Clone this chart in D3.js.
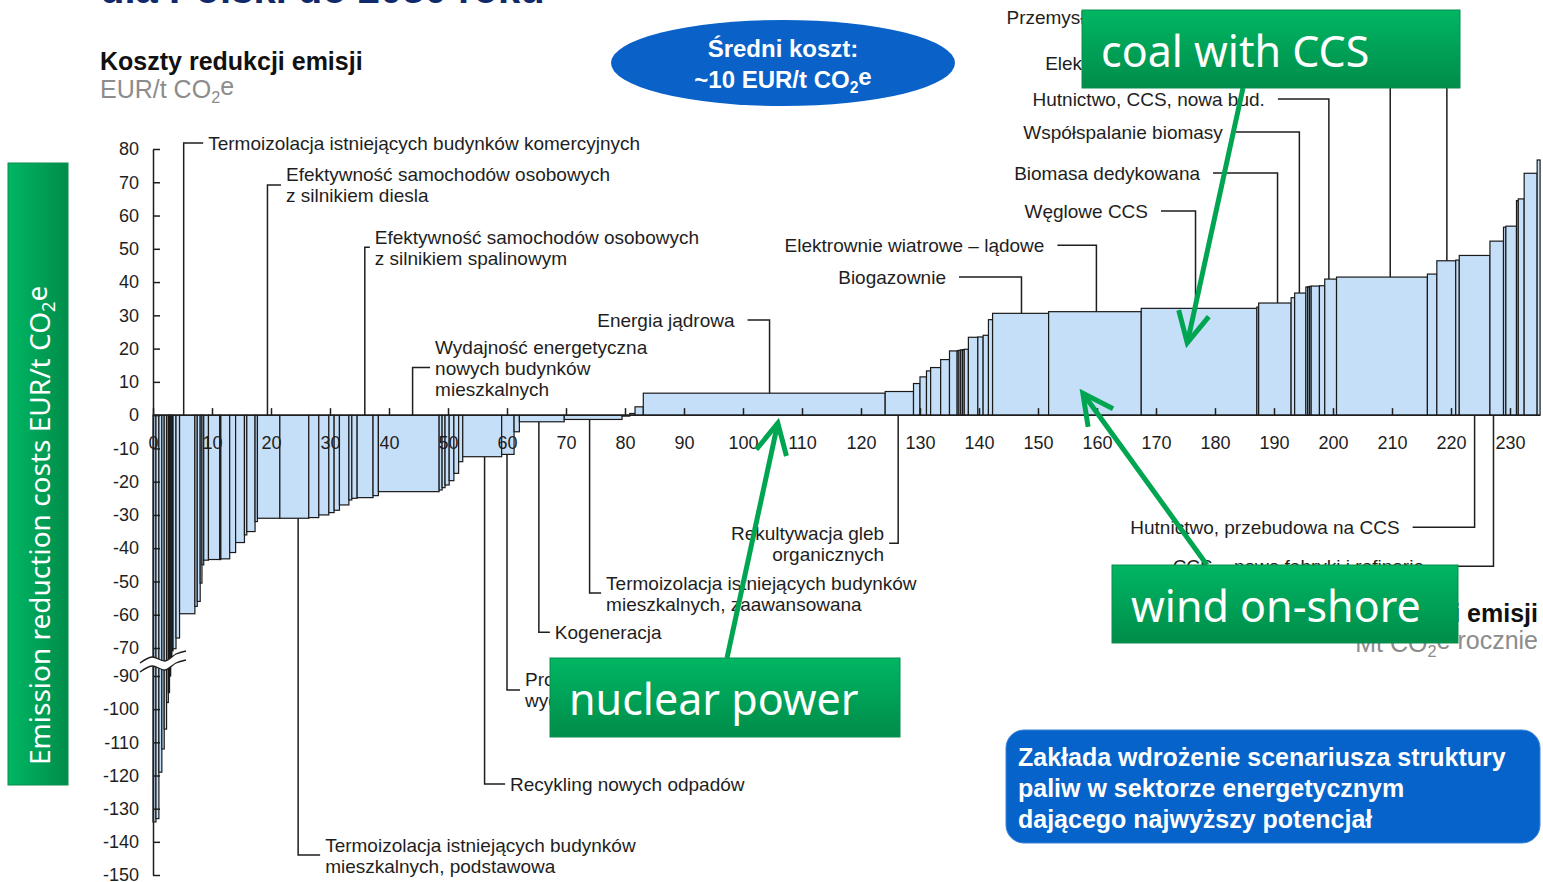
<!DOCTYPE html>
<meta charset="utf-8">
<script src="https://cdnjs.cloudflare.com/ajax/libs/d3/7.8.5/d3.min.js"></script>
<style>

body {
  margin: 0;
  background: #fff;
}
svg {
  display: block;
  font-family: "Liberation Sans", Arial, sans-serif;
}

rect.bar {
  fill: #c6dff8;
  stroke: #1a1a1a;
  stroke-width: 1.2px;
}

.axis text {
  font-family: "Liberation Sans", Arial, sans-serif;
  font-size: 18px;
  fill: #1e1e1e;
}
.axis line, .axis path {
  stroke: #1e1e1e;
  stroke-width: 1.5px;
}

.leader {
  fill: none;
  stroke: #1e1e1e;
  stroke-width: 1.5px;
}
.lbl {
  font-size: 19px;
  fill: #1e1e1e;
}

.arrow {
  fill: none;
  stroke: #00a551;
  stroke-width: 5px;
}
.callout text {
  font-family: "Noto Sans", "Open Sans", sans-serif;
  font-size: 43px;
  fill: #fff;
}

</style>
<body>
<div class="chart"></div>
<script type="text/javascript">

// Abatement potential of each measure (Mt CO2e per year), left to right
var potential = [0.5, 0.5, 0.5, 0.4, 0.4, 0.3, 0.2, 0.2, 0.2, 0.2,
                 0.5, 0.6, 2.6, 0.4, 0.5, 0.3, 0.3, 0.8, 1.9, 0.2,
                 1.5, 1.0, 1.5, 0.4, 1.4, 0.4, 3.8, 4.9, 1.7, 1.7,
                 0.9, 0.9, 1.6, 0.5, 0.9, 2.7, 0.9, 10.3, 0.5, 0.5,
                 0.7, 0.8, 0.8, 0.7, 6.6, 2.1, 0.9, 7.6, 9.8, 1.3,
                 0.9, 1.4, 41.0, 4.8, 1.1, 1.1, 0.7, 1.7, 1.5, 1.3,
                 0.3, 0.3, 0.3, 0.3, 0.7, 1.6, 0.9, 0.9, 0.7, 9.5,
                 15.7, 19.6, 0.3, 5.5, 0.6, 1.9, 0.3, 0.3, 0.3, 1.4,
                 0.9, 2.0, 15.4, 1.6, 3.2, 0.6, 5.2, 2.3, 0.4, 1.8,
                 0.3, 1.0, 2.2, 0.5];

// Cost of each measure (EUR/t CO2e)
var cost = [-134, -133, -119, -112, -106, -98, -95, -90, -76, -72,
            -70.5, -67, -59.7, -57.5, -56, -50.5, -45, -43.6, -43.4, -43.4,
            -43.2, -41.3, -38.3, -36, -35, -32, -31, -31, -30.8, -30,
            -29.3, -28.6, -27, -25.5, -25, -24.8, -24.2, -23, -22.5, -21.8,
            -21, -19.7, -17.5, -14, -12.5, -11.8, -5, -2, -1.3, -0.3,
            0.5, 2.5, 6.6, 7.1, 9.5, 11.5, 13.3, 14.3, 16.7, 19.3,
            19.4, 19.5, 19.6, 19.7, 19.8, 23.4, 23.5, 24, 28.7, 30.6,
            31.1, 32.1, 32.5, 33.7, 35.3, 36.7, 38.5, 38.6, 38.7, 38.8,
            38.9, 40.9, 41.5, 42.4, 46.4, 46.6, 48.0, 52.3, 56.5, 56.8,
            64.5, 65, 72.7, 76.7];

var xTicks = d3.range(0, 240, 10);
var yTicks = [80, 70, 60, 50, 40, 30, 20, 10, 0, -10, -20, -30, -40, -50, -60, -70,
              -90, -100, -110, -120, -130, -140, -150];

// Leader labels: measure position (Mt), elbow level (EUR/t), arm length in px (negative = text on the left)
var leaders = [
  {lines: ["Termoizolacja istniejących budynków komercyjnych"], at: 5.2, elbow: 81.8, arm: 19.5},
  {lines: ["Efektywność samochodów osobowych", "z silnikiem diesla"], at: 19.4, elbow: 69.2, arm: 13.5},
  {lines: ["Efektywność samochodów osobowych", "z silnikiem spalinowym"], at: 35.9, elbow: 50.5, arm: 5},
  {lines: ["Wydajność energetyczna", "nowych budynków", "mieszkalnych"], at: 44.0, elbow: 14.3, arm: 17.5},
  {lines: ["Energia jądrowa"], at: 104.5, elbow: 28.6, arm: -22},
  {lines: ["Biogazownie"], at: 147.2, elbow: 41.5, arm: -62.5},
  {lines: ["Elektrownie wiatrowe – lądowe"], at: 159.9, elbow: 51.1, arm: -39},
  {lines: ["Węglowe CCS"], at: 176.7, elbow: 61.4, arm: -34.5},
  {lines: ["Biomasa dedykowana"], at: 190.6, elbow: 72.8, arm: -64.5},
  {lines: ["Współspalanie biomasy"], at: 194.3, elbow: 85.1, arm: -63.5},
  {lines: ["Hutnictwo, CCS, nowa bud."], at: 199.3, elbow: 95.0, arm: -51},
  {lines: ["Elektrownie wiatrowe – morskie"], at: 209.7, elbow: 105.9, arm: -66},
  {lines: ["Przemysł chemiczny – CCS"], at: 219.3, elbow: 119.7, arm: -193},
  {lines: ["Termoizolacja istniejących budynków", "mieszkalnych, podstawowa"], at: 24.6, elbow: -144, arm: 22},
  {lines: ["Recykling nowych odpadów"], at: 56.2, elbow: -122.6, arm: 20.5},
  {lines: ["Procesy przemysłowe", "wydajność energetyczna"], at: 60.0, elbow: -94.2, arm: 13},
  {lines: ["Kogeneracja"], at: 65.4, elbow: -65.3, arm: 11},
  {lines: ["Termoizolacja istniejących budynków", "mieszkalnych, zaawansowana"], at: 74.0, elbow: -53.5, arm: 11.5},
  {lines: ["Rekultywacja gleb", "organicznych"], at: 126.3, elbow: -38.5, arm: -9, gap: 5},
  {lines: ["Hutnictwo, przebudowa na CCS"], at: 224.0, elbow: -33.7, arm: -62},
  {lines: ["CCS – nowe fabryki i rafinerie"], at: 227.2, elbow: -45.4, arm: -56.5}
];

// Green call-outs pointing at measures (tip in chart units)
var callouts = [
  {text: "coal with CCS", box: [1082, 10, 378, 78], tail: [1243, 88], tip: [175.3, 21.7]},
  {text: "wind on-shore", box: [1112, 565, 346, 78], tail: [1207, 565], tip: [157.6, 6.6]},
  {text: "nuclear power", box: [550, 658, 350, 79], tail: [727, 658], tip: [105.9, -2.4]}
];

var width = 1543,
    height = 882;

var svg = d3.select(".chart").append("svg")
    .attr("width", width)
    .attr("height", height);

var defs = svg.append("defs");
var gv = defs.append("linearGradient").attr("id", "greenV")
    .attr("x1", 0).attr("y1", 0).attr("x2", 0).attr("y2", 1);
gv.append("stop").attr("offset", 0).attr("stop-color", "#00b663");
gv.append("stop").attr("offset", 1).attr("stop-color", "#008d4a");
var gh = defs.append("linearGradient").attr("id", "greenH")
    .attr("x1", 0).attr("y1", 0).attr("x2", 1).attr("y2", 0);
gh.append("stop").attr("offset", 0).attr("stop-color", "#00b663");
gh.append("stop").attr("offset", 1).attr("stop-color", "#008d4a");

// Scales: y axis is broken between -70 and -90
var x = d3.scaleLinear().domain([0, 230]).range([153, 1510]);
var y = d3.scaleLinear().domain([-150, -90, -70, 80]).range([875, 676, 648, 149]);

var ends = d3.cumsum(potential);
var bars = cost.map(function(c, i) {
  return {x0: i ? ends[i - 1] : 0, x1: ends[i], c: c};
});

// Bars
svg.append("g").selectAll("rect")
    .data(bars)
  .join("rect")
    .attr("class", "bar")
    .attr("x", function(d) { return x(d.x0); })
    .attr("width", function(d) { return x(d.x1) - x(d.x0); })
    .attr("y", function(d) { return y(Math.max(d.c, 0)); })
    .attr("height", function(d) { return Math.abs(y(d.c) - y(0)); });

// Zero line with upward ticks and labels
var xAxis = svg.append("g")
    .attr("class", "axis")
    .attr("transform", "translate(0," + y(0) + ")")
    .call(d3.axisBottom(x).tickValues(xTicks).tickFormat(function(d) { return String(d); })
          .tickSizeInner(-7).tickSizeOuter(0).tickPadding(21));
xAxis.select(".domain").remove();
xAxis.selectAll("text").attr("font-size", null);
svg.append("line")
    .attr("x1", x(0)).attr("x2", x(ends[ends.length - 1]))
    .attr("y1", y(0)).attr("y2", y(0))
    .attr("stroke", "#1e1e1e").attr("stroke-width", 1.5);

// Y axis (plain hyphen for negatives, as in the original)
var yAxis = svg.append("g")
    .attr("class", "axis")
    .attr("transform", "translate(" + x(0) + ",0)")
    .call(d3.axisLeft(y).tickValues(yTicks).tickFormat(function(d) { return String(d); })
          .tickSizeInner(-7).tickSizeOuter(0).tickPadding(14));
yAxis.selectAll("text").attr("font-size", null);

// Axis break mark
var yb = (y(-70) + y(-90)) / 2;
var wave = [[140, 4], [152, -2], [165, 2], [176, -5], [186, -8]];
var topPts = wave.map(function(p) { return [p[0], yb + p[1] - 3]; });
var botPts = wave.map(function(p) { return [p[0], yb + p[1] + 6]; });
var curve = d3.line().curve(d3.curveCardinal);
svg.append("path")
    .attr("d", curve(topPts) + "L" + botPts.slice().reverse().map(function(p) { return p.join(","); }).join("L") + "Z")
    .attr("fill", "#fff");
svg.append("path")
    .attr("d", curve(topPts) + curve(botPts))
    .attr("fill", "none").attr("stroke", "#1e1e1e").attr("stroke-width", 1.3);

// Leader labels
function barAt(v) {
  return bars.find(function(d) { return v >= d.x0 && v < d.x1; });
}
var lab = svg.append("g");
leaders.forEach(function(d) {
  var b = barAt(d.at),
      up = d.elbow > 0,
      y0 = y(up ? Math.max(b.c, 0) : Math.min(b.c, 0)),
      lx = x(d.at),
      ey = y(d.elbow),
      ex = lx + d.arm,
      right = d.arm > 0,
      gap = d.gap || (right ? 5 : 13),
      tx = right ? ex + gap : ex - gap;
  lab.append("path")
      .attr("class", "leader")
      .attr("d", "M" + lx + "," + y0 + "V" + ey + "H" + ex);
  var t = lab.append("text")
      .attr("class", "lbl")
      .attr("text-anchor", right ? "start" : "end");
  d.lines.forEach(function(s, k) {
    t.append("tspan")
        .attr("x", tx)
        .attr("y", ey + (k - (d.lines.length - 1) / 2) * 21 + 7)
        .text(s);
  });
});

// CO2e with subscript
function co2e(text, before, after) {
  text.append("tspan").text(before + "CO");
  text.append("tspan").attr("dy", "0.3em").attr("font-size", "65%").text("2");
  text.append("tspan").attr("dy", "-0.3em").text("e" + (after || ""));
}

// Titles
svg.append("text")
    .attr("x", 100).attr("y", 3)
    .attr("font-size", 40).attr("font-weight", "bold").attr("fill", "#10296b")
    .text("dla Polski do 2030 roku");
svg.append("text")
    .attr("x", 100).attr("y", 70)
    .attr("font-size", 25).attr("font-weight", "bold").attr("fill", "#111")
    .text("Koszty redukcji emisji");
co2e(svg.append("text")
    .attr("x", 100).attr("y", 98)
    .attr("font-size", 25).attr("fill", "#8c8c8c"), "EUR/t ");

svg.append("text")
    .attr("x", 1538).attr("y", 622).attr("text-anchor", "end")
    .attr("font-size", 25).attr("font-weight", "bold").attr("fill", "#111")
    .text("Potencjał redukcji emisji");
co2e(svg.append("text")
    .attr("x", 1538).attr("y", 652).attr("text-anchor", "end")
    .attr("font-size", 25).attr("fill", "#8c8c8c"), "Mt ", " rocznie");

// Average cost ellipse
svg.append("ellipse")
    .attr("cx", 783).attr("cy", 63).attr("rx", 172).attr("ry", 43)
    .attr("fill", "#0a62c8");
svg.append("text")
    .attr("x", 783).attr("y", 57).attr("text-anchor", "middle")
    .attr("font-size", 24).attr("font-weight", "bold").attr("fill", "#fff")
    .text("Średni koszt:");
co2e(svg.append("text")
    .attr("x", 783).attr("y", 88).attr("text-anchor", "middle")
    .attr("font-size", 24).attr("font-weight", "bold").attr("fill", "#fff"), "~10 EUR/t ");

// Note box
svg.append("rect")
    .attr("x", 1006).attr("y", 730).attr("width", 534).attr("height", 113)
    .attr("rx", 18)
    .attr("fill", "#0563c9").attr("stroke", "#3b83d6").attr("stroke-width", 1);
var note = svg.append("text")
    .attr("font-size", 25).attr("font-weight", "bold").attr("fill", "#fff");
["Zakłada wdrożenie scenariusza struktury",
 "paliw w sektorze energetycznym",
 "dającego najwyższy potencjał"].forEach(function(s, k) {
  note.append("tspan").attr("x", 1018).attr("y", 766 + k * 31).text(s);
});

// Green annotations
var ann = svg.append("g").attr("class", "callout");

ann.append("rect")
    .attr("x", 8).attr("y", 163).attr("width", 60).attr("height", 622)
    .attr("fill", "url(#greenH)").attr("stroke", "#0a8d4c");
var vt = ann.append("text")
    .attr("transform", "translate(50,765) rotate(-90)")
    .style("font-size", "28px");
co2e(vt, "Emission reduction costs EUR/t ");

callouts.forEach(function(d) {
  var tip = [x(d.tip[0]), y(d.tip[1])],
      ang = Math.atan2(d.tail[1] - tip[1], d.tail[0] - tip[0]),
      a1 = ang + 0.47, a2 = ang - 0.47, len = 34;
  ann.append("path")
      .attr("class", "arrow")
      .attr("d", "M" + d.tail + "L" + tip);
  ann.append("path")
      .attr("class", "arrow")
      .attr("stroke-linejoin", "miter")
      .attr("d", "M" + [tip[0] + len * Math.cos(a1), tip[1] + len * Math.sin(a1)] +
                 "L" + tip +
                 "L" + [tip[0] + len * Math.cos(a2), tip[1] + len * Math.sin(a2)]);
  ann.append("rect")
      .attr("x", d.box[0]).attr("y", d.box[1])
      .attr("width", d.box[2]).attr("height", d.box[3])
      .attr("fill", "url(#greenV)").attr("stroke", "#0a8d4c");
  ann.append("text")
      .attr("x", d.box[0] + 19).attr("y", d.box[1] + 57)
      .text(d.text);
});

</script>
</body>
</html>
